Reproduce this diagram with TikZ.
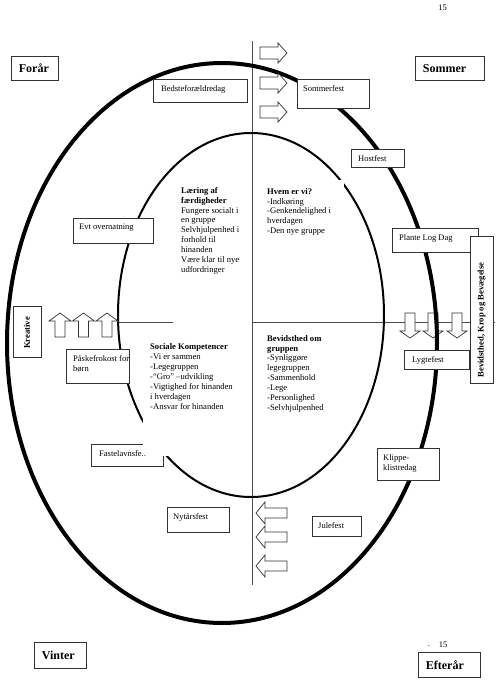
\documentclass[tikz,border=0pt]{standalone}
\usepackage{fontspec}
\setmainfont{Liberation Serif}
\tikzset{
  frame/.style={draw=black!80, line width=0.8pt, fill=white, inner sep=0pt, anchor=north west},
  btext/.style={inner sep=0pt, anchor=north west, align=left, font=\fontsize{8.5}{10}\selectfont},
  ctext/.style={inner sep=0pt, anchor=north west, align=left, font=\fontsize{8.6}{9.9}\selectfont},
  season/.style={draw=black!80, line width=0.8pt, fill=white, inner xsep=7.5pt, inner ysep=0pt, align=left, font=\fontsize{12}{14}\selectfont\bfseries, anchor=north west},
  vtext/.style={inner sep=0pt, rotate=90, font=\fontsize{8.6}{10}\selectfont\bfseries},
  cover/.style={fill=white, inner sep=0pt, anchor=north west},
  guide/.style={draw=black!70, line width=0.7pt},
  pnum/.style={inner sep=0pt, font=\fontsize{8.5}{10}\selectfont},
  arrowst/.style={draw=black!80, line width=0.7pt, fill=white, line join=miter},
  pics/barrow/.style args={#1/#2/#3/#4}{code={
     \draw[arrowst] ({-#1/2},{-#3/2}) -- ({#1/2-#4},{-#3/2}) -- ({#1/2-#4},{-#2/2}) -- ({#1/2},0)
        -- ({#1/2-#4},{#2/2}) -- ({#1/2-#4},{#3/2}) -- ({-#1/2},{#3/2}) -- cycle;}}
}
\begin{document}
\begin{tikzpicture}[x=1pt,y=-1pt]
\useasboundingbox (0,0) rectangle (496,681);

% axis lines
\coordinate (vtop) at (252.5,41);
\coordinate (vbot) at (252.5,585);
\coordinate (hl1) at (118,322);
\coordinate (hl2) at (173,322);
\coordinate (hr1) at (253,322);
\coordinate (hr2) at (495,322);
\draw[guide] (vtop) -- (vbot);
\draw[guide] (hl1) -- (hl2);
\draw[guide] (hr1) -- (hr2);

% down arrows (under the ellipse)
\pic[rotate=-90] (down1) at (410,325.5) {barrow={25/20/10/7}};
\pic[rotate=-90] (down2) at (433,325.5) {barrow={25/20/10/7}};
\pic[rotate=-90] (down3) at (457,325.5) {barrow={25/20/10/7}};

% ellipses
\draw[line width=4pt] (222,343) ellipse [x radius=215, y radius=280];
\draw[line width=2pt] (251,315) ellipse [x radius=133, y radius=182];

% boxes
\node[frame, minimum width=94pt, minimum height=23pt] (bedste) at (153,79) {};
\node[frame, minimum width=72pt, minimum height=29pt] (sommerfest) at (297,79) {};
\node[frame, minimum width=53pt, minimum height=18pt] (hostfest) at (351,149) {};
\node[frame, minimum width=80pt, minimum height=25pt] (evt) at (73,218) {};
\node[frame, minimum width=86pt, minimum height=24pt] (plante) at (392,228) {};
\node[frame, minimum width=23pt, minimum height=147pt] (bevidst) at (470,236) {};
\node[frame, minimum width=28pt, minimum height=51pt] (kreative) at (13,306) {};
\node[frame, minimum width=63pt, minimum height=34pt] (paaske) at (66,349) {};
\node[frame, minimum width=65pt, minimum height=19pt] (lygte) at (404,350) {};
\node[frame, minimum width=72pt, minimum height=22pt] (fastelavn) at (91,444) {};
\node[frame, minimum width=62pt, minimum height=32pt] (klippe) at (377,448) {};
\node[frame, minimum width=62pt, minimum height=25pt] (nytaar) at (167,507) {};
\node[frame, minimum width=49pt, minimum height=20pt] (jule) at (312,516) {};

% white text areas that hide parts of the lines
\node[cover, minimum width=107pt, minimum height=121pt] (skcover) at (143,335) {};
\node[cover, minimum width=82pt, minimum height=66pt] (hvemcover) at (262,180) {};

% season boxes
\node[season, minimum width=47pt, minimum height=24pt, text width=32pt] (forar) at (11,56) {Forår};
\node[season, minimum width=69pt, minimum height=24pt, text width=54pt] (sommer) at (415,56) {Sommer};
\node[season, minimum width=52pt, minimum height=26pt, text width=37pt] (vinter) at (34,642) {Vinter};
\node[season, minimum width=62pt, minimum height=25pt, text width=47pt] (efterar) at (418,652) {Efterår};

% arrows
\pic (right1) at (273.5,53) {barrow={27/20/12/9}};
\pic (right2) at (273.5,83) {barrow={27/20/12/9}};
\pic (right3) at (273.5,112) {barrow={27/20/12/9}};
\pic[rotate=90] (up1) at (60,325) {barrow={24/22/10/8}};
\pic[rotate=90] (up2) at (83.5,325) {barrow={24/22/10/8}};
\pic[rotate=90] (up3) at (107,325) {barrow={24/22/10/8}};
\pic[rotate=180] (left1) at (271.5,513) {barrow={31/22/10/9}};
\pic[rotate=180] (left2) at (271.5,537) {barrow={31/22/10/9}};
\pic[rotate=180] (left3) at (271.5,566) {barrow={31/22/10/9}};

% box texts
\node[btext] (bedste-t) at (161,85.5) {Bedsteforældredag};
\node[btext] (sommerfest-t) at (303,85.5) {Sommerfest};
\node[btext] (hostfest-t) at (358,155) {Hostfest};
\node[btext] (evt-t) at (79,224) {Evt overnatning};
\node[btext] (plante-t) at (399,234.5) {Plante Log Dag};
\node[btext] (paaske-t) at (73,355.5) {Påskefrokost for\\børn};
\node[btext] (lygte-t) at (412,356.5) {Lygtefest};
\node[btext] (fastelavn-t) at (99,450) {Fastelavnsfe..};
\node[btext] (klippe-t) at (383,454) {Klippe-\\klistredag};
\node[btext] (nytaar-t) at (173,513) {Nytårsfest};
\node[btext] (jule-t) at (318,522) {Julefest};
\node[vtext] (kreative-t) at (27,333) {Kreative};
\node[vtext] (bevidst-t) at (481.5,320) {Bevidsthed, Krop og Bevægelse};

% central texts
\node[ctext] (laering) at (181,187) {\textbf{Læring af}\\\textbf{færdigheder}\\Fungere socialt i\\en gruppe\\Selvhjulpenhed i\\forhold til\\hinanden\\Være klar til nye\\udfordringer};
\node[ctext] (hvem) at (267,188) {\textbf{Hvem er vi?}\\-Indkøring\\-Genkendelighed i\\hverdagen\\-Den nye gruppe};
\node[ctext] (sociale) at (150,343.5) {\textbf{Sociale Kompetencer}\\-Vi er sammen\\-Legegruppen\\-“Gro” –udvikling\\-Vigtighed for hinanden\\i hverdagen\\-Ansvar for hinanden};
\node[ctext] (bevgrp) at (267,335) {\textbf{Bevidsthed om}\\\textbf{gruppen}\\-Synliggøre\\legegruppen\\-Sammenhold\\-Lege\\-Personlighed\\-Selvhjulpenhed};

% page numbers
\node[pnum] (pn-top) at (442.5,8) {15};
\node[pnum] (pn-bot) at (443,645) {15};
\node[pnum] (pn-dot) at (429,646) {.};
\end{tikzpicture}
\end{document}
